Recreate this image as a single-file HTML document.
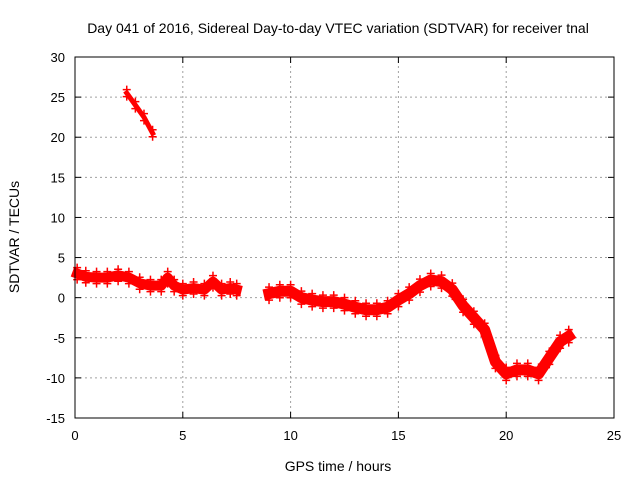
<!DOCTYPE html>
<html><head><meta charset="utf-8"><style>
body{margin:0;background:#fff;}
svg text{font-family:"Liberation Sans",sans-serif;font-size:13px;fill:#000;}
</style></head><body>
<svg id="chart" width="640" height="480">
<text x="338" y="33" text-anchor="middle" style="font-size:14px">Day 041 of 2016, Sidereal Day-to-day VTEC variation (SDTVAR) for receiver tnal</text>
<text x="338" y="471" text-anchor="middle" style="font-size:14px">GPS time / hours</text>
<text transform="translate(19,237) rotate(-90)" text-anchor="middle" style="font-size:14px">SDTVAR / TECUs</text>
<g id="grid"></g><g id="ticks"></g><g id="marks"></g>
<rect x="75" y="57" width="539" height="361" fill="none" stroke="#000" stroke-width="1"/>
</svg>
<script>
const xTicks=[0,5,10,15,20,25];
const yTicks=[-15,-10,-5,0,5,10,15,20,25,30];
const seg1Time=[2.4,2.8,3.2,3.6];
const seg1Val=[25.5,24,22.5,20.5];
const seg2Time=[0.1,0.5,1,1.5,2,2.5,3,3.5,4,4.3,4.6,5,5.5,6,6.4,6.8,7.2,7.5];
const seg2Val=[3,2.6,2.5,2.5,2.8,2.5,1.8,1.5,1.5,2.5,1.5,1,1.2,1,2,1,1.2,1];
const seg3Time=[9,9.5,10,10.5,11,11.5,12,12.5,13,13.5,14,14.5,15,15.5,16,16.5,17,17.5,18,18.5,19,19.5,20,20.5,21,21.5,22,22.5,22.9];
const seg3Val=[0.5,0.8,0.8,0,-0.3,-0.5,-0.5,-0.8,-1.2,-1.5,-1.5,-1.2,-0.3,0.5,1.5,2.2,2,1,-1,-2.5,-4,-8,-9.5,-9,-9,-9.5,-7.5,-5.5,-4.8];
const X0=75,X1=614,Y0=418,Y1=57;
const xs=v=>X0+(v-0)/(25-0)*(X1-X0);
const ys=v=>Y0-(v+15)/(45)*(Y0-Y1);
const NS="http://www.w3.org/2000/svg";
const grid=document.getElementById('grid'),ticks=document.getElementById('ticks'),marks=document.getElementById('marks');
function mk(t,a,p){const e=document.createElementNS(NS,t);for(const k in a)e.setAttribute(k,a[k]);p.appendChild(e);return e;}
xTicks.forEach(v=>{const x=xs(v);
 if(v>0&&v<25){const g=mk('line',{x1:x,x2:x,y1:Y0,y2:Y1,stroke:'#a0a0a0','stroke-dasharray':'2,3'},grid);
 
 }
 mk('line',{x1:x,x2:x,y1:Y0,y2:Y0-6,stroke:'#000'},ticks);mk('line',{x1:x,x2:x,y1:Y1,y2:Y1+6,stroke:'#000'},ticks);
 const t=mk('text',{x:x,y:Y0+22,'text-anchor':'middle'},ticks);t.textContent=v;
 
 });
yTicks.forEach(v=>{const y=ys(v);
 if(v>-15&&v<30){const g=mk('line',{x1:X0,x2:X1,y1:y,y2:y,stroke:'#a0a0a0','stroke-dasharray':'2,3'},grid);
 
 }
 mk('line',{x1:X0,x2:X0+6,y1:y,y2:y,stroke:'#000'},ticks);mk('line',{x1:X1,x2:X1-6,y1:y,y2:y,stroke:'#000'},ticks);
 const t=mk('text',{x:X0-10,y:y+5,'text-anchor':'end'},ticks);t.textContent=v;
 
 });
function series(T,V,w,name){
 const pts=T.map((t,i)=>xs(t)+','+ys(V[i])).join(' ');
 const p=mk('polyline',{points:pts,fill:'none',stroke:'#ff0000','stroke-width':w,'stroke-linejoin':'round','stroke-linecap':'square'},marks);
 
 
 T.forEach((t,i)=>{const x=xs(t),y=ys(V[i]);
  const c=mk('path',{d:`M${x-4},${y-w/2-1}h8M${x},${y-w/2-5}v8M${x-4},${y+w/2+1}h8M${x},${y+w/2-3}v8`,stroke:'#ff0000','stroke-width':1.5},marks);
  
  });
}
series(seg1Time,seg1Val,5,'sdtvar-series-early');
series(seg2Time,seg2Val,10,'sdtvar-series-morning');
series(seg3Time,seg3Val,11,'sdtvar-series-afternoon');
</script>
</body></html>
